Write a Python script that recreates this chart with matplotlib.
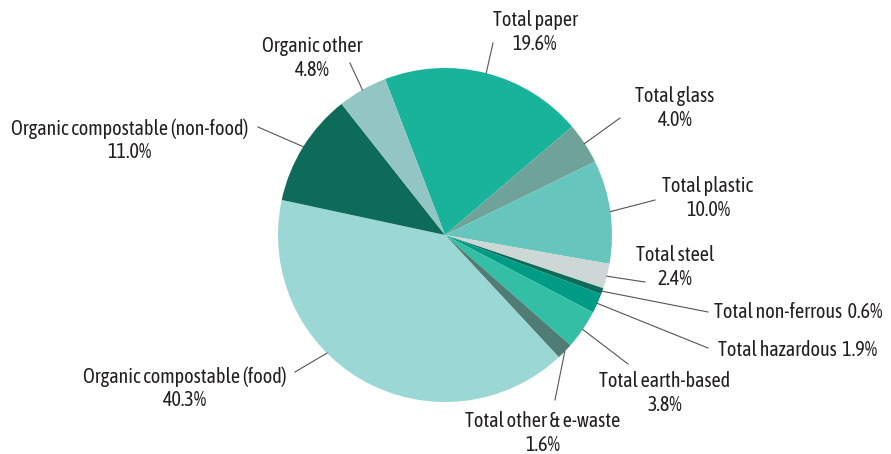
import numpy as np
import matplotlib
matplotlib.use("Agg")
import matplotlib.pyplot as plt

names = ["Total paper", "Total glass", "Total plastic", "Total steel",
         "Total non-ferrous", "Total hazardous", "Total earth-based",
         "Total other & e-waste", "Organic compostable (food)",
         "Organic compostable (non-food)", "Organic other"]
shares = [19.6, 4.0, 10.0, 2.4, 0.6, 1.9, 3.8, 1.6, 40.3, 11.0, 4.8]
colors = ["#19b29a", "#6fa39a", "#66c6bd", "#cdd8d6", "#0e6b5a", "#009b84",
          "#33bfa5", "#4f7d76", "#9bd8d5", "#0f6b59", "#93c5c4"]

# label layout in pixel coords (x, y from top), alignment, one/two lines
label_pos = [(535, 32, "center", 2), (675, 108, "center", 2), (708, 198, "center", 2),
             (675, 267, "center", 2), (714, 312, "left", 1), (718, 350, "left", 1),
             (665, 393, "center", 2), (543, 433, "center", 2), (185, 388, "center", 2),
             (130, 140, "center", 2), (312, 58, "center", 2)]
line_end = [(493, 43), (620, 118), (655, 200), (645, 282), (708, 312), (708, 348),
            (628, 364), (555, 400), (295, 372), (258, 127), (350, 63)]
anchor_override = {8: -135}

plt.rcParams["font.family"] = ["Asap Condensed", "Archivo Narrow", "DejaVu Sans"]

W, H = 891, 454
fig = plt.figure(figsize=(W / 100, H / 100), dpi=100)
ax = fig.add_axes([0, 0, 1, 1])

cx, cy, r = 445, H - 235, 167
start = 111
ax.pie(shares, colors=colors, startangle=start, counterclock=False,
       center=(cx, cy), radius=r, frame=True,
       wedgeprops=dict(linewidth=0))
ax.set_xlim(0, W)
ax.set_ylim(0, H)
ax.set_aspect("equal")
ax.axis("off")

cum = start
for i, (name, v) in enumerate(zip(names, shares)):
    mid = cum - v * 3.6 / 2
    cum -= v * 3.6
    ang = np.deg2rad(anchor_override.get(i, mid))
    ex, ey = cx + r * np.cos(ang), cy + r * np.sin(ang)
    lx, ly = line_end[i]
    ax.plot([ex, lx], [ey, H - ly], color="#555555", lw=0.8)
    tx, ty, ha, nl = label_pos[i]
    if nl == 2:
        txt = f"{name}\n{v:.1f}%"
    else:
        txt = f"{name}  {v:.1f}%"
    ax.text(tx, H - ty, txt, ha=ha, va="center", fontsize=14.5,
            color="#231f20", linespacing=1.2)

fig.savefig("out.png", dpi=100, facecolor="white")
